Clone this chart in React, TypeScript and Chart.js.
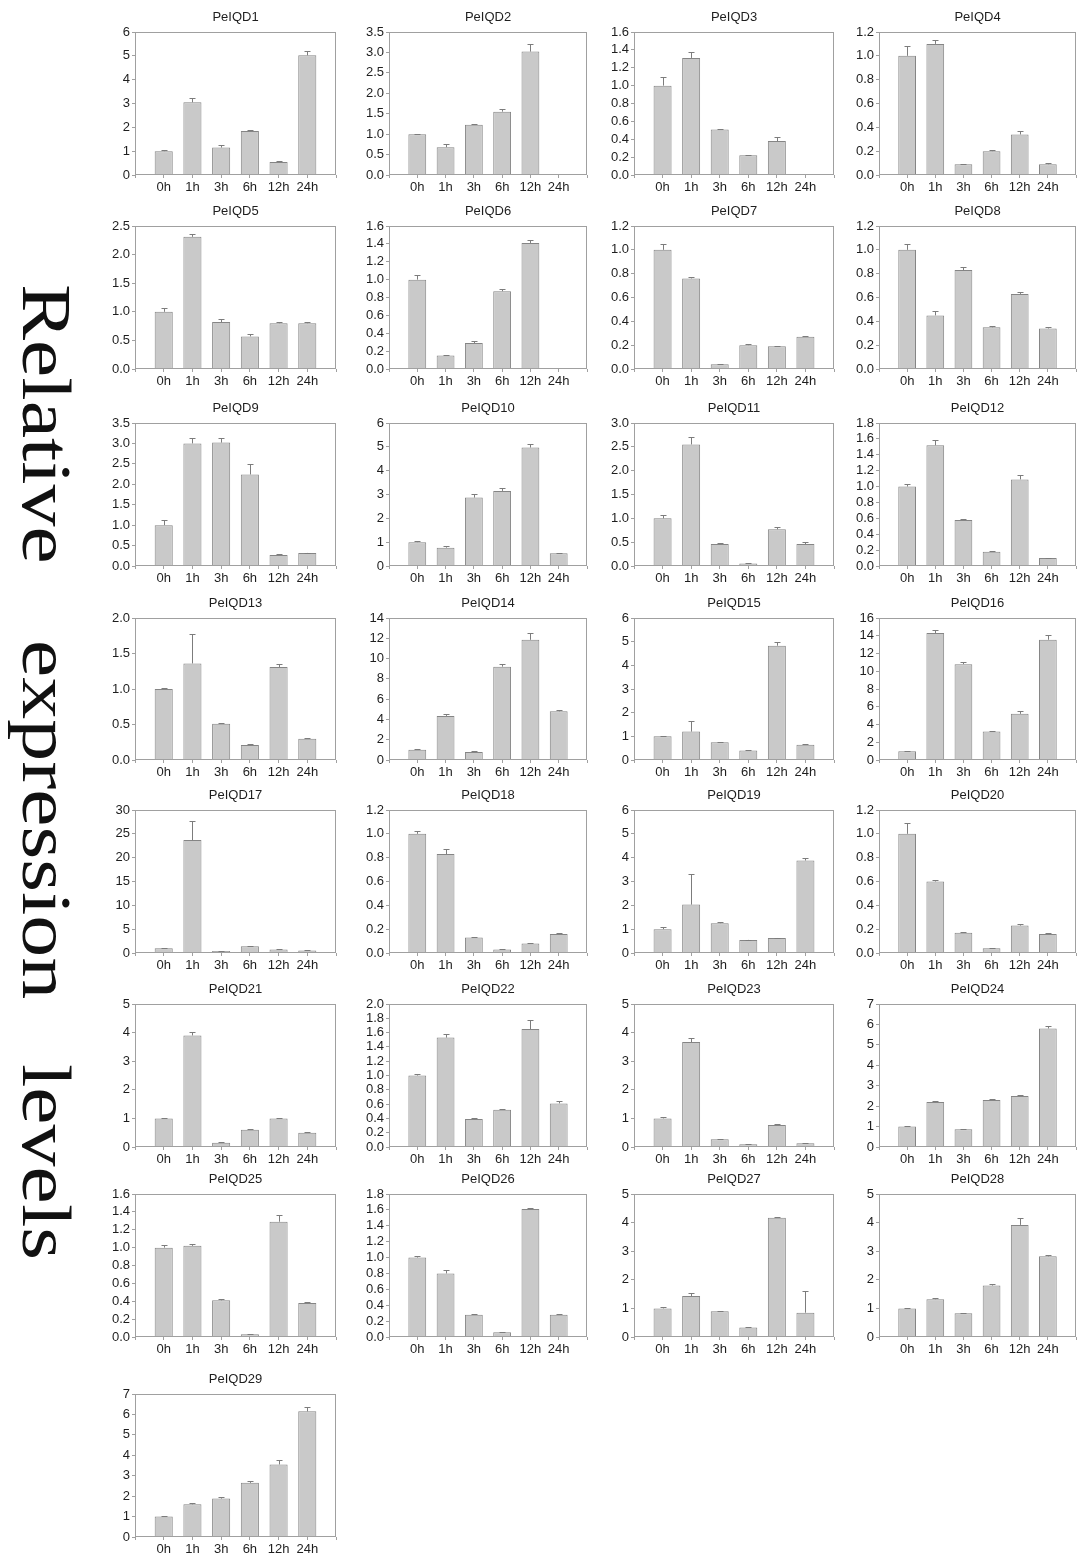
import React, { useEffect, useRef } from "react";
import { Chart, registerables } from "chart.js";

Chart.register(...registerables);

// ---------- data ----------
const TIMES = ["0h", "1h", "3h", "6h", "12h", "24h"];

const GENES = [
  "PeIQD1", "PeIQD2", "PeIQD3", "PeIQD4", "PeIQD5", "PeIQD6", "PeIQD7", "PeIQD8",
  "PeIQD9", "PeIQD10", "PeIQD11", "PeIQD12", "PeIQD13", "PeIQD14", "PeIQD15", "PeIQD16",
  "PeIQD17", "PeIQD18", "PeIQD19", "PeIQD20", "PeIQD21", "PeIQD22", "PeIQD23", "PeIQD24",
  "PeIQD25", "PeIQD26", "PeIQD27", "PeIQD28", "PeIQD29",
];

// relative expression (mean), one list per gene, in TIMES order
const MEANS: (number | null)[][] = [
  [1.0, 3.05, 1.15, 1.85, 0.55, 5.02],
  [1.0, 0.68, 1.23, 1.55, 3.02, null],
  [1.0, 1.31, 0.51, 0.22, 0.38, null],
  [1.0, 1.1, 0.09, 0.2, 0.34, 0.09],
  [1.0, 2.31, 0.82, 0.57, 0.8, 0.8],
  [1.0, 0.15, 0.29, 0.87, 1.41, null],
  [1.0, 0.76, 0.04, 0.2, 0.19, 0.27],
  [1.0, 0.45, 0.83, 0.35, 0.63, 0.34],
  [1.0, 3.0, 3.02, 2.24, 0.27, 0.32],
  [1.0, 0.77, 2.87, 3.15, 4.97, 0.53],
  [1.0, 2.55, 0.46, 0.05, 0.77, 0.46],
  [1.0, 1.52, 0.58, 0.18, 1.09, 0.1],
  [1.0, 1.36, 0.51, 0.21, 1.31, 0.3],
  [1.0, 4.35, 0.8, 9.2, 11.85, 4.8],
  [1.0, 1.2, 0.75, 0.4, 4.83, 0.64],
  [1.0, 14.3, 10.8, 3.2, 5.2, 13.55],
  [1.0, 23.7, 0.4, 1.4, 0.75, 0.55],
  [1.0, 0.83, 0.13, 0.03, 0.08, 0.16],
  [1.0, 2.03, 1.25, 0.55, 0.63, 3.88],
  [1.0, 0.6, 0.17, 0.04, 0.23, 0.16],
  [1.0, 3.9, 0.15, 0.6, 1.0, 0.5],
  [1.0, 1.53, 0.39, 0.52, 1.65, 0.61],
  [1.0, 3.67, 0.27, 0.1, 0.77, 0.13],
  [1.0, 2.2, 0.87, 2.3, 2.5, 5.8],
  [1.0, 1.02, 0.41, 0.03, 1.29, 0.38],
  [1.0, 0.8, 0.28, 0.06, 1.61, 0.28],
  [1.0, 1.43, 0.9, 0.33, 4.17, 0.85],
  [1.0, 1.32, 0.83, 1.8, 3.92, 2.82],
  [1.0, 1.6, 1.88, 2.65, 3.55, 6.15],
];

// upper error bar lengths
const ERRORS: number[][] = [
  [0.05, 0.2, 0.1, 0.05, 0.03, 0.2],
  [0.01, 0.07, 0.01, 0.06, 0.18, 0],
  [0.1, 0.07, 0.01, 0.005, 0.05, 0],
  [0.08, 0.03, 0.005, 0.01, 0.03, 0.01],
  [0.06, 0.05, 0.05, 0.05, 0.02, 0.03],
  [0.05, 0.01, 0.02, 0.03, 0.03, 0],
  [0.05, 0.01, 0.005, 0.01, 0.005, 0.01],
  [0.05, 0.04, 0.03, 0.01, 0.02, 0.01],
  [0.13, 0.13, 0.12, 0.26, 0.03, 0.01],
  [0.03, 0.05, 0.17, 0.12, 0.16, 0.01],
  [0.08, 0.15, 0.03, 0.01, 0.04, 0.04],
  [0.03, 0.06, 0.01, 0.005, 0.05, 0.005],
  [0.02, 0.41, 0.01, 0.02, 0.04, 0.01],
  [0.05, 0.2, 0.05, 0.25, 0.7, 0.1],
  [0.02, 0.45, 0.02, 0.03, 0.15, 0.02],
  [0.05, 0.4, 0.2, 0.05, 0.3, 0.5],
  [0.05, 4.0, 0.05, 0.1, 0.05, 0.05],
  [0.02, 0.04, 0.005, 0.003, 0.008, 0.005],
  [0.07, 1.3, 0.04, 0.01, 0.01, 0.1],
  [0.09, 0.01, 0.005, 0.003, 0.015, 0.005],
  [0.03, 0.12, 0.01, 0.02, 0.03, 0.02],
  [0.02, 0.05, 0.01, 0.01, 0.13, 0.03],
  [0.04, 0.15, 0.01, 0.01, 0.03, 0.01],
  [0.03, 0.05, 0.03, 0.05, 0.05, 0.1],
  [0.03, 0.02, 0.01, 0.005, 0.07, 0.01],
  [0.02, 0.04, 0.01, 0.005, 0.02, 0.01],
  [0.05, 0.12, 0.02, 0.01, 0.04, 0.75],
  [0.02, 0.04, 0.02, 0.06, 0.25, 0.05],
  [0.03, 0.07, 0.06, 0.08, 0.22, 0.2],
];

const Y_MAX = [6, 3.5, 1.6, 1.2, 2.5, 1.6, 1.2, 1.2, 3.5, 6, 3.0, 1.8, 2.0, 14, 6, 16, 30, 1.2, 6, 1.2, 5, 2.0, 5, 7, 1.6, 1.8, 5, 5, 7];
const Y_STEP = [1, 0.5, 0.2, 0.2, 0.5, 0.2, 0.2, 0.2, 0.5, 1, 0.5, 0.2, 0.5, 2, 1, 2, 5, 0.2, 1, 0.2, 1, 0.2, 1, 1, 0.2, 0.2, 1, 1, 1];
const Y_DECIMALS = [0, 1, 1, 1, 1, 1, 1, 1, 1, 0, 1, 1, 1, 0, 0, 0, 0, 1, 0, 1, 0, 1, 0, 0, 1, 1, 0, 0, 0];

const SIDE_WORDS = ["Relative", "expression", "levels"];

// ---------- layout ----------
const COL_LEFT = [135, 389, 634, 879];
const COL_RIGHT = [336, 587, 834, 1076];
const ROW_TOP = [32, 226, 423, 618, 810, 1004, 1194, 1394];
const ROW_BOTTOM = [175, 369, 566, 760, 953, 1147, 1337, 1537];
const WORD_TOP = [284, 640, 1064];

const SANS = '"Liberation Sans", Arial, Helvetica, sans-serif';
const TEXT = "#1e1e1e";
const AXIS = "#a0a0a0";

const YW = 46;
const TH = 26;
const XH = 24;
const RP = 2;

function Panel({ idx }: { idx: number }) {
  const ref = useRef<HTMLCanvasElement>(null);
  const row = Math.floor(idx / 4);
  const col = idx % 4;
  const fl = COL_LEFT[col];
  const fr = COL_RIGHT[col];
  const ft = ROW_TOP[row];
  const fb = ROW_BOTTOM[row];
  const left = fl - YW;
  const top = ft - TH;
  const width = fr - fl + YW + RP;
  const height = fb - ft + TH + XH;

  useEffect(() => {
    if (!ref.current) return;
    const means = MEANS[idx];
    const errs = ERRORS[idx];
    const dec = Y_DECIMALS[idx];

    const framePlugin = {
      id: "frame",
      afterDatasetsDraw(c: any) {
        const a = c.chartArea;
        const ctx = c.ctx;
        ctx.save();
        ctx.strokeStyle = AXIS;
        ctx.lineWidth = 1;
        ctx.strokeRect(
          Math.round(a.left) + 0.5,
          Math.round(a.top) + 0.5,
          Math.round(a.right - a.left) - 1,
          Math.round(a.bottom - a.top) - 1
        );
        ctx.restore();
      },
    };

    const errPlugin = {
      id: "errbars",
      afterDatasetsDraw(c: any) {
        const meta = c.getDatasetMeta(0);
        const ys = c.scales.y;
        const ctx = c.ctx;
        ctx.save();
        ctx.strokeStyle = "#7c7c7c";
        ctx.lineWidth = 1;
        means.forEach((m, i) => {
          const e = errs[i];
          if (m == null || !e) return;
          const el = meta.data[i + 1];
          if (!el) return;
          const x = Math.round(el.x) + 0.5;
          const y0 = ys.getPixelForValue(m);
          const y1 = Math.round(ys.getPixelForValue(m + e)) + 0.5;
          ctx.beginPath();
          ctx.moveTo(x, y0);
          ctx.lineTo(x, y1);
          ctx.moveTo(x - 3, y1);
          ctx.lineTo(x + 3, y1);
          ctx.stroke();
        });
        ctx.restore();
      },
    };

    const chart = new Chart(ref.current, {
      type: "bar",
      data: {
        labels: ["", ...TIMES, ""],
        datasets: [
          {
            data: [null, ...means, null],
            backgroundColor: "#c9c9c9",
            borderColor: "#858585",
            borderWidth: 1,
            barPercentage: 0.63,
            categoryPercentage: 1,
          },
        ],
      },
      options: {
        animation: false,
        responsive: false,
        maintainAspectRatio: false,
        devicePixelRatio: 1,
        layout: { padding: { left: 0, right: RP, top: 0, bottom: 0 } },
        plugins: {
          legend: { display: false },
          tooltip: { enabled: false },
          title: {
            display: true,
            fullSize: false,
            text: GENES[idx],
            color: TEXT,
            font: { family: SANS, size: 13, weight: "normal" },
            padding: { top: 4, bottom: 6.4 },
          },
        },
        scales: {
          x: {
            offset: false,
            grid: {
              offset: false,
              display: true,
              drawOnChartArea: false,
              drawTicks: true,
              tickLength: 3,
              color: AXIS,
            },
            border: { display: false },
            ticks: {
              color: TEXT,
              font: { family: SANS, size: 13 },
              padding: 2,
              maxRotation: 0,
              autoSkip: false,
            },
            afterFit: (s: any) => {
              s.height = XH;
            },
          },
          y: {
            min: 0,
            max: Y_MAX[idx],
            grid: {
              display: true,
              drawOnChartArea: false,
              drawTicks: true,
              tickLength: 3,
              color: AXIS,
            },
            border: { display: false },
            ticks: {
              stepSize: Y_STEP[idx],
              autoSkip: false,
              maxTicksLimit: 30,
              color: TEXT,
              font: { family: SANS, size: 13 },
              padding: 2,
              callback: (v: any) => Number(v).toFixed(dec),
            },
            afterFit: (s: any) => {
              s.width = YW;
            },
          },
        },
      } as any,
      plugins: [framePlugin, errPlugin],
    });
    return () => chart.destroy();
  }, [idx]);

  return (
    <canvas
      ref={ref}
      width={width}
      height={height}
      style={{ position: "absolute", left, top, width, height }}
    />
  );
}

export default function App() {
  return (
    <div
      style={{
        position: "absolute",
        left: 0,
        top: 0,
        width: 1078,
        height: 1557,
        overflow: "hidden",
        background: "#ffffff",
      }}
    >
      {SIDE_WORDS.map((w, i) => (
        <div
          key={w}
          style={{
            position: "absolute",
            left: 80,
            top: WORD_TOP[i],
            transformOrigin: "0 0",
            transform: "rotate(90deg) scale(1, 0.82)",
            fontFamily: '"Liberation Serif", "Times New Roman", serif',
            fontSize: 84,
            lineHeight: 1,
            whiteSpace: "nowrap",
            color: "#111",
          }}
        >
          {w}
        </div>
      ))}
      {GENES.map((g, i) => (
        <Panel key={g} idx={i} />
      ))}
    </div>
  );
}
